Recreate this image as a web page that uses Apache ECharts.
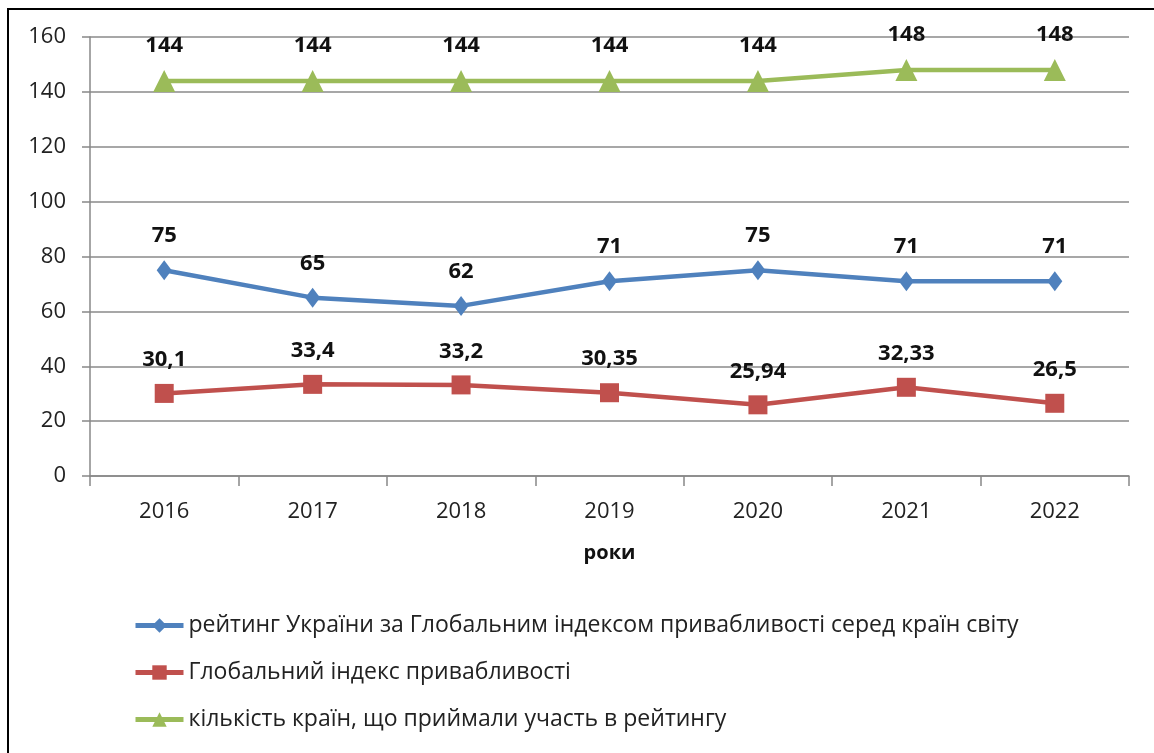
<!DOCTYPE html>
<html lang="uk">
<head>
    <meta charset="utf-8"/>
    <script src="https://cdn.jsdelivr.net/npm/echarts@6.0.0/dist/echarts.min.js"></script>
    <title></title>
    <style>
        body { margin: 0; background: #fff; }
        #main { width: 1154px; height: 753px; }
    </style>
</head>
<body>
<div id="main"></div>
<script type="text/javascript">
    var years = ['2016', '2017', '2018', '2019', '2020', '2021', '2022'];
    var rating = [75, 65, 62, 71, 75, 71, 71];
    var index = [30.1, 33.4, 33.2, 30.35, 25.94, 32.33, 26.5];
    var countries = [144, 144, 144, 144, 144, 148, 148];
    var yTicks = [0, 20, 40, 60, 80, 100, 120, 140, 160];

    var names = [
        'рейтинг України за Глобальним індексом привабливості серед країн світу',
        'Глобальний індекс привабливості',
        'кількість країн, що приймали участь в рейтингу'
    ];

    var font = '"Open Sans", sans-serif';

    function lbl() {
        return {
            show: true,
            position: 'top',
            distance: 13,
            color: '#111',
            fontWeight: 'bold',
            fontSize: 22,
            fontFamily: font,
            formatter: function (p) { return String(p.value).replace('.', ','); }
        };
    }

    var myChart = echarts.init(document.getElementById('main'));
    var option = {
        animation: false,
        textStyle: { fontFamily: font },
        graphic: [{
            type: 'rect',
            shape: { x: 8, y: 9, width: 1200, height: 800 },
            style: { fill: 'none', stroke: '#000', lineWidth: 2 }
        }],
        grid: { left: 90, right: 25, top: 37, bottom: 277 },
        legend: {
            orient: 'vertical',
            left: 128,
            top: 609,
            itemGap: 24,
            itemWidth: 48,
            itemHeight: 18,
            lineStyle: { width: 5 },
            textStyle: { fontSize: 23, color: '#222', fontFamily: font },
            data: names
        },
        xAxis: {
            type: 'category',
            data: years,
            boundaryGap: true,
            name: 'роки',
            nameLocation: 'middle',
            nameGap: 67,
            nameTextStyle: { fontSize: 20, fontWeight: 'bold', color: '#111' },
            axisLine: { lineStyle: { color: '#888', width: 1.5 } },
            axisTick: { show: true, length: 10, lineStyle: { color: '#888', width: 1.5 } },
            axisLabel: { margin: 25, fontSize: 22, color: '#222' }
        },
        yAxis: {
            type: 'value',
            min: yTicks[0],
            max: yTicks[yTicks.length - 1],
            interval: 20,
            axisLine: { show: true, lineStyle: { color: '#888', width: 1.5 } },
            axisTick: { show: true, length: 8, lineStyle: { color: '#888', width: 1.5 } },
            axisLabel: { margin: 24, fontSize: 22, color: '#222' },
            splitLine: { lineStyle: { color: '#8a8a8a', width: 1.5 } }
        },
        series: [
            {
                name: names[0],
                type: 'line',
                data: rating,
                symbol: 'diamond',
                symbolSize: [15, 20],
                color: '#4F81BD',
                lineStyle: { width: 4.5 },
                label: lbl()
            },
            {
                name: names[1],
                type: 'line',
                data: index,
                symbol: 'rect',
                symbolSize: 19,
                color: '#C0504D',
                lineStyle: { width: 4.5 },
                label: lbl()
            },
            {
                name: names[2],
                type: 'line',
                data: countries,
                symbol: 'triangle',
                symbolSize: [22, 22],
                color: '#9BBB59',
                lineStyle: { width: 4.5 },
                label: lbl()
            }
        ]
    };
    myChart.setOption(option);
</script>
</body>
</html>
